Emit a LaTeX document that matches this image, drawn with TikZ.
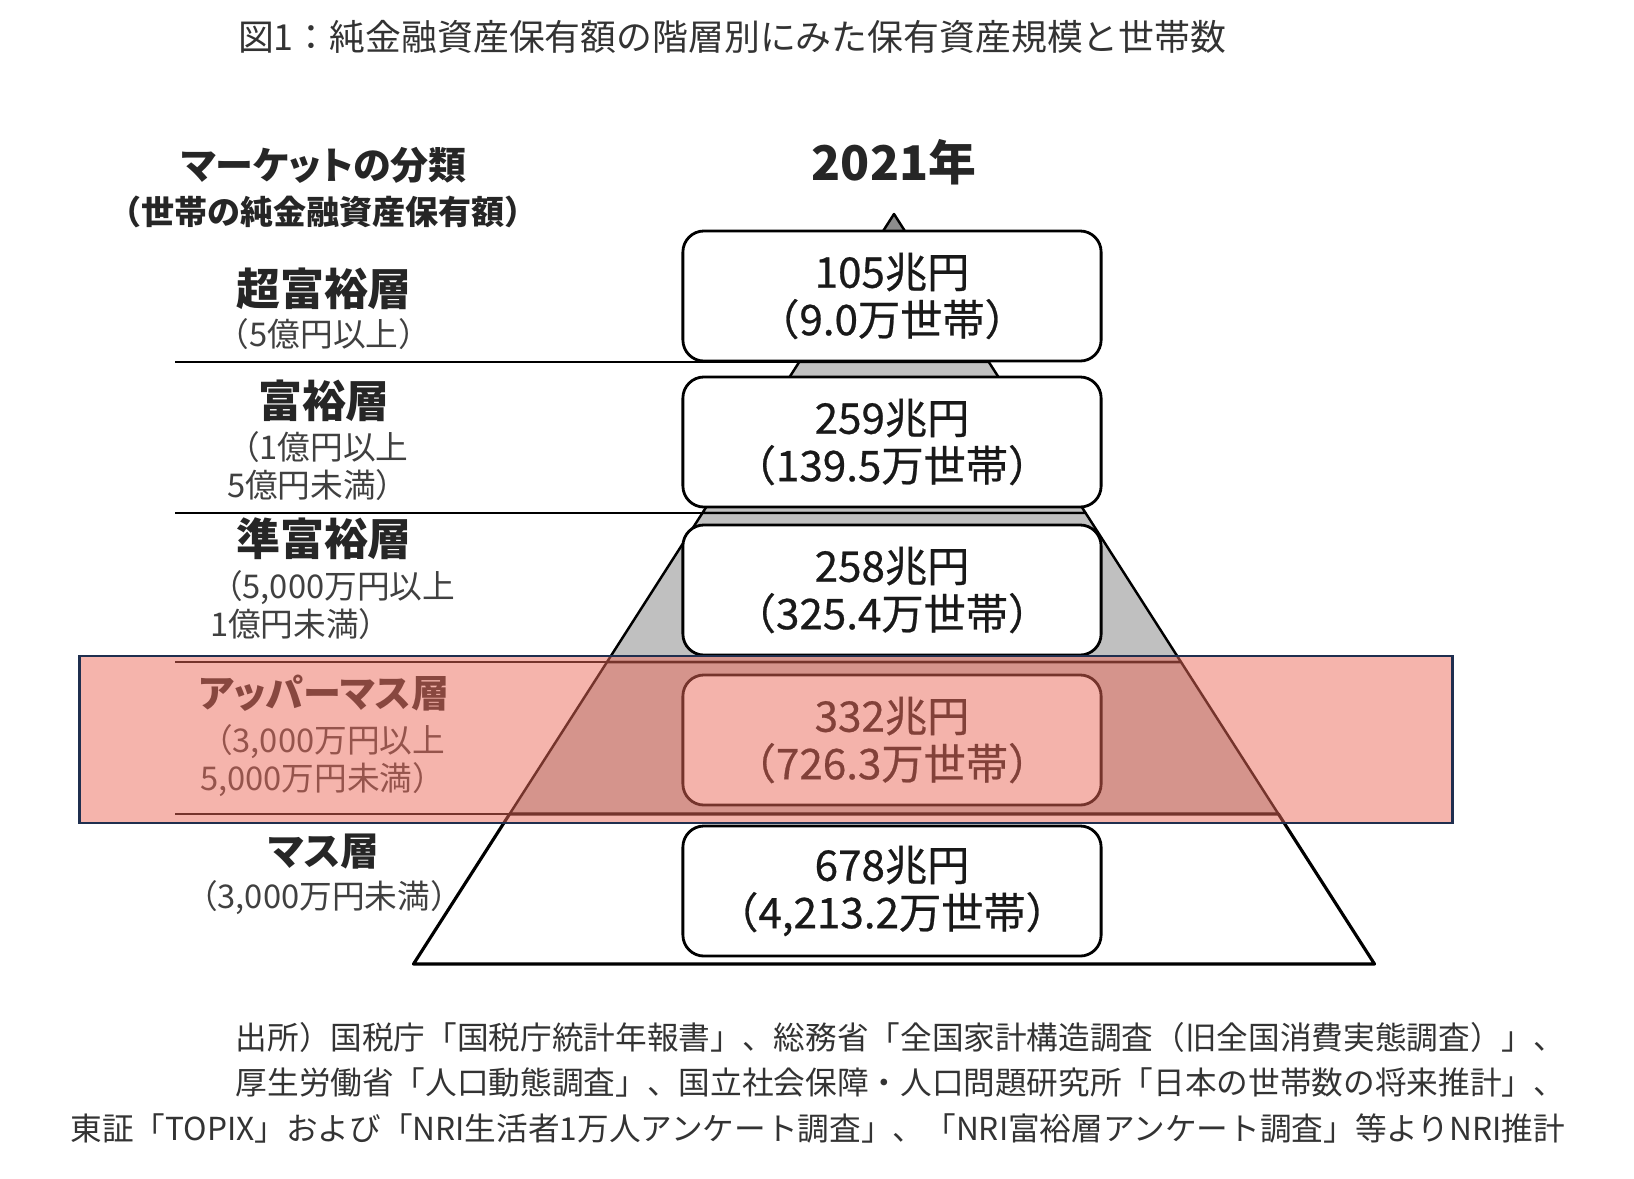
\documentclass[tikz,border=0pt]{standalone}
\usepackage{fontspec}
\setmainfont{Noto Sans CJK JP}
\newfontfamily\paltfont[RawFeature=+palt]{Noto Sans CJK JP}
\newfontfamily\boxfont[FakeBold=0.6]{Noto Sans CJK JP}
\definecolor{pyrgray}{HTML}{C0C0C0}
\definecolor{pyrtop}{HTML}{8C8C8C}
\definecolor{bandpink}{RGB}{235,105,89}
\definecolor{bandline}{HTML}{1F2F4F}

\begin{document}
\begin{tikzpicture}[x=0.01cm, y=-0.01cm, every node/.style={inner sep=0pt, outer sep=0pt},
	tierbox/.style={draw, line width=0.8pt, rounded corners=6pt, fill=white, minimum width=4.18cm, minimum height=1.3cm, align=center, font=\boxfont\fontsize{12}{13.5}\selectfont, text=black!90},
	seg/.style={draw, line width=0.7pt, line join=round},
	sepline/.style={line width=0.7pt},
	tiername/.style={font=\paltfont\bfseries\fontsize{12.5}{14}\selectfont, text=black!85},
	tierrange/.style={font=\fontsize{9.3}{11}\selectfont, text=black!75, align=left}]
	\useasboundingbox (0,0) rectangle (1634,1178);
	\node[anchor=west, font=\fontsize{10.2}{12}\selectfont, text=black!80] (title) at (238,37) {図1：純金融資産保有額の階層別にみた保有資産規模と世帯数};
	\node[font=\paltfont\bfseries\fontsize{10.8}{12}\selectfont, text=black!85] (market) at (324,165) {マーケットの分類};
	\node[font=\bfseries\fontsize{9.4}{11}\selectfont, text=black!85] (marketsub) at (323,212) {（世帯の純金融資産保有額）};
	\node[font=\bfseries\fontsize{13.6}{15}\selectfont, text=black!85] (year) at (894,162) {2021年};
	% pyramid
	\coordinate (apex) at (894,214);
	\coordinate (l1w) at (799.2,362); \coordinate (l1e) at (988.8,362);
	\coordinate (l2w) at (702.4,513); \coordinate (l2e) at (1085.6,513);
	\coordinate (l3w) at (607,662);   \coordinate (l3e) at (1181,662);
	\coordinate (l4w) at (509.6,814); \coordinate (l4e) at (1278.4,814);
	\coordinate (basew) at (413.5,964); \coordinate (basee) at (1374.5,964);
	\filldraw[seg, fill=pyrtop] (apex) -- (l1e) -- (l1w) -- cycle;
	\filldraw[seg, fill=pyrgray] (l1w) -- (l1e) -- (l2e) -- (l2w) -- cycle;
	\filldraw[seg, fill=pyrgray] (l2w) -- (l2e) -- (l3e) -- (l3w) -- cycle;
	\filldraw[seg, fill=pyrgray] (l3w) -- (l3e) -- (l4e) -- (l4w) -- cycle;
	\filldraw[seg, fill=white, line width=0.9pt] (l4w) -- (l4e) -- (basee) -- (basew) -- cycle;
	% tier borders on the left
	\coordinate (s1) at (175,362); \coordinate (s2) at (175,513);
	\coordinate (s3) at (175,662); \coordinate (s4) at (175,814);
	\draw[sepline] (s1) -- (l1w);
	\draw[sepline] (s2) -- (l2w);
	\draw[sepline] (s3) -- (l3w);
	\draw[sepline] (s4) -- (l4w);
	% amounts
	\node[tierbox] (ultra) at (892,296) {105兆円\\（9.0万世帯）};
	\node[tierbox] (wealthy) at (892,442) {259兆円\\（139.5万世帯）};
	\node[tierbox] (semi) at (892,590) {258兆円\\（325.4万世帯）};
	\node[tierbox] (upper) at (892,740) {332兆円\\（726.3万世帯）};
	\node[tierbox] (mass) at (892,891) {678兆円\\（4,213.2万世帯）};
	% market classes
	\node[tiername] (ultra-name) at (324,289) {超富裕層};
	\node[tierrange] (ultra-range) at (324,334) {（5億円以上）};
	\node[tiername] (wealthy-name) at (324,401) {富裕層};
	\node[tierrange, anchor=north west] (wealthy-range) at (227,431) {（1億円以上\\5億円未満）};
	\node[tiername] (semi-name) at (324,539) {準富裕層};
	\node[tierrange, anchor=north west] (semi-range) at (210,570) {（5,000万円以上\\1億円未満）};
	\node[tiername, font=\paltfont\bfseries\fontsize{10.8}{12}\selectfont] (upper-name) at (324,693) {アッパーマス層};
	\node[tierrange, anchor=north west] (upper-range) at (200,724) {（3,000万円以上\\5,000万円未満）};
	\node[tiername, font=\paltfont\bfseries\fontsize{11}{12}\selectfont] (mass-name) at (324,852) {マス層};
	\node[tierrange] (mass-range) at (324,898) {（3,000万円未満）};
	% highlight
	\node[fill=bandpink, fill opacity=0.5, draw=bandline, draw opacity=1, line width=0.7pt, minimum width=13.72cm, minimum height=1.67cm] (band) at (766,739.5) {};
	\node[anchor=north east, align=right, font=\fontsize{9}{13}\selectfont, text=black!80] (source) at (1565,1022) {出所）国税庁「国税庁統計年報書」、総務省「全国家計構造調査（旧全国消費実態調査）」、\\厚生労働省「人口動態調査」、国立社会保障・人口問題研究所「日本の世帯数の将来推計」、\\東証「TOPIX」および「NRI生活者1万人アンケート調査」、「NRI富裕層アンケート調査」等よりNRI推計};
\end{tikzpicture}
\end{document}
